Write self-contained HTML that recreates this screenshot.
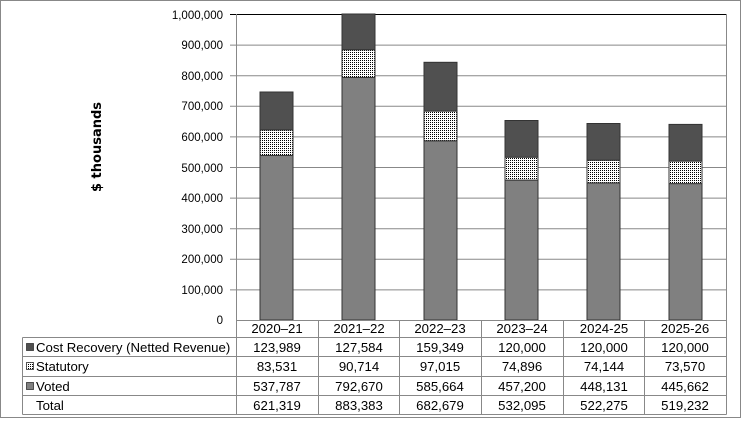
<!DOCTYPE html>
<html><head><meta charset="utf-8"><style>
html,body{margin:0;padding:0;background:#fff;}
svg{display:block;font-family:"Liberation Sans",Arial,sans-serif;}
</style></head><body>
<svg width="743" height="423" viewBox="0 0 743 423" xmlns="http://www.w3.org/2000/svg">
<defs>
<pattern id="dots" width="2" height="2" patternUnits="userSpaceOnUse">
<rect width="2" height="2" fill="#fff"/><rect width="1" height="1" fill="#000"/>
</pattern>
</defs>
<rect x="0.5" y="0.5" width="740" height="417" fill="#fff" stroke="#888"/>
<g stroke="#888" stroke-width="1">
<line x1="230" y1="14.5" x2="726" y2="14.5" stroke="#000"/>
<line x1="230" y1="45.1" x2="726" y2="45.1"/>
<line x1="230" y1="75.7" x2="726" y2="75.7"/>
<line x1="230" y1="106.3" x2="726" y2="106.3"/>
<line x1="230" y1="136.9" x2="726" y2="136.9"/>
<line x1="230" y1="167.5" x2="726" y2="167.5"/>
<line x1="230" y1="198.1" x2="726" y2="198.1"/>
<line x1="230" y1="228.7" x2="726" y2="228.7"/>
<line x1="230" y1="259.3" x2="726" y2="259.3"/>
<line x1="230" y1="289.9" x2="726" y2="289.9"/>
<line x1="236.5" y1="14" x2="236.5" y2="320"/>
<line x1="726.5" y1="14" x2="726.5" y2="320"/>
</g>
<g font-size="11.5" text-anchor="end" fill="#000">
<text x="223" y="19">1,000,000</text>
<text x="223" y="49">900,000</text>
<text x="223" y="80">800,000</text>
<text x="223" y="110">700,000</text>
<text x="223" y="141">600,000</text>
<text x="223" y="172">500,000</text>
<text x="223" y="202">400,000</text>
<text x="223" y="233">300,000</text>
<text x="223" y="263">200,000</text>
<text x="223" y="294">100,000</text>
<text x="223" y="324">0</text>
</g>
<text transform="translate(101,147) rotate(-90)" text-anchor="middle" font-size="13" font-weight="bold" font-family="DejaVu Sans,sans-serif">$ thousands</text>
<g stroke="#333" stroke-width="1">
<rect x="260" y="155.4" width="33" height="164.6" fill="#808080"/>
<rect x="260" y="129.9" width="33" height="25.5" fill="url(#dots)"/>
<rect x="260" y="92" width="33" height="37.9" fill="#505050"/>
<rect x="342" y="77.4" width="33" height="242.6" fill="#808080"/>
<rect x="342" y="49.7" width="33" height="27.7" fill="url(#dots)"/>
<rect x="342" y="14" width="33" height="35.7" fill="#505050"/>
<rect x="424" y="140.8" width="33" height="179.2" fill="#808080"/>
<rect x="424" y="111.1" width="33" height="29.7" fill="url(#dots)"/>
<rect x="424" y="62.3" width="33" height="48.8" fill="#505050"/>
<rect x="505" y="180.1" width="33" height="139.9" fill="#808080"/>
<rect x="505" y="157.2" width="33" height="22.9" fill="url(#dots)"/>
<rect x="505" y="120.5" width="33" height="36.7" fill="#505050"/>
<rect x="587" y="182.9" width="33" height="137.1" fill="#808080"/>
<rect x="587" y="160.2" width="33" height="22.7" fill="url(#dots)"/>
<rect x="587" y="123.5" width="33" height="36.7" fill="#505050"/>
<rect x="669" y="183.6" width="33" height="136.4" fill="#808080"/>
<rect x="669" y="161.1" width="33" height="22.5" fill="url(#dots)"/>
<rect x="669" y="124.4" width="33" height="36.7" fill="#505050"/>
</g>
<g stroke="#888" stroke-width="1" fill="none">
<line x1="236.5" y1="320.5" x2="726.5" y2="320.5"/>
<line x1="22.5" y1="337.5" x2="726.5" y2="337.5"/>
<line x1="22.5" y1="356.5" x2="726.5" y2="356.5"/>
<line x1="22.5" y1="376.5" x2="726.5" y2="376.5"/>
<line x1="22.5" y1="395.5" x2="726.5" y2="395.5"/>
<line x1="22.5" y1="414.5" x2="726.5" y2="414.5"/>
<line x1="22.5" y1="337.5" x2="22.5" y2="414.5"/>
<line x1="236.5" y1="320" x2="236.5" y2="414.5"/>
<line x1="318.5" y1="320" x2="318.5" y2="414.5"/>
<line x1="399.5" y1="320" x2="399.5" y2="414.5"/>
<line x1="481.5" y1="320" x2="481.5" y2="414.5"/>
<line x1="563.5" y1="320" x2="563.5" y2="414.5"/>
<line x1="644.5" y1="320" x2="644.5" y2="414.5"/>
<line x1="726.5" y1="320" x2="726.5" y2="414.5"/>
</g>
<g stroke="#333" stroke-width="0.8">
<rect x="26.5" y="343.5" width="7" height="7" fill="#505050"/>
<rect x="26.5" y="362.5" width="7" height="7" fill="url(#dots)"/>
<rect x="26.5" y="382.5" width="7" height="7" fill="#808080"/>
</g>
<g font-size="13.2" fill="#000">
<text x="36" y="352">Cost Recovery (Netted Revenue)</text>
<text x="36" y="371">Statutory</text>
<text x="36" y="391">Voted</text>
<text x="36" y="410">Total</text>
</g>
<g font-size="13.2" fill="#000" text-anchor="middle">
<text x="277" y="333">2020–21</text><text x="359" y="333">2021–22</text><text x="440" y="333">2022–23</text><text x="522" y="333">2023–24</text><text x="604" y="333">2024-25</text><text x="685" y="333">2025-26</text>
<text x="277" y="352">123,989</text><text x="359" y="352">127,584</text><text x="440" y="352">159,349</text><text x="522" y="352">120,000</text><text x="604" y="352">120,000</text><text x="685" y="352">120,000</text>
<text x="277" y="371">83,531</text><text x="359" y="371">90,714</text><text x="440" y="371">97,015</text><text x="522" y="371">74,896</text><text x="604" y="371">74,144</text><text x="685" y="371">73,570</text>
<text x="277" y="391">537,787</text><text x="359" y="391">792,670</text><text x="440" y="391">585,664</text><text x="522" y="391">457,200</text><text x="604" y="391">448,131</text><text x="685" y="391">445,662</text>
<text x="277" y="410">621,319</text><text x="359" y="410">883,383</text><text x="440" y="410">682,679</text><text x="522" y="410">532,095</text><text x="604" y="410">522,275</text><text x="685" y="410">519,232</text>
</g>
</svg>
</body></html>
